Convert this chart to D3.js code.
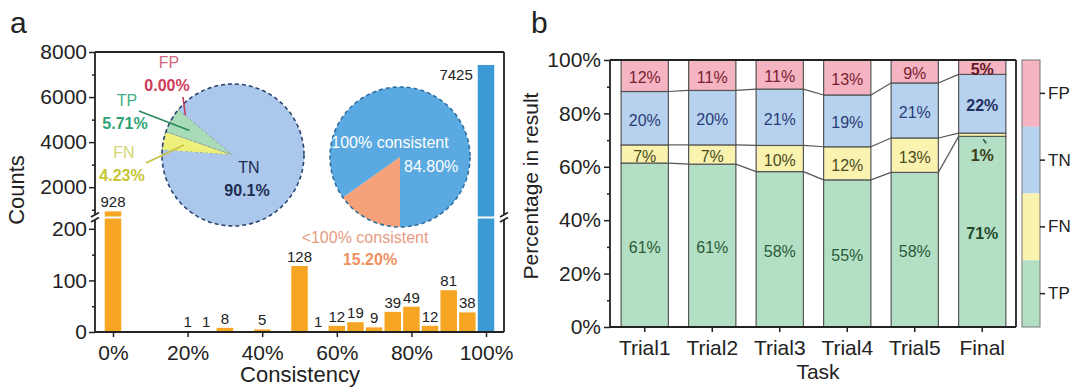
<!DOCTYPE html>
<meta charset="utf-8">
<style>
body { margin: 0; background: #fff; }
svg { font-family: "Liberation Sans", Arial, sans-serif; }
.axis text { font-size: 21px; fill: #222; }
.axis line { stroke: #222; stroke-width: 1.5; }
.frame { stroke: #222; stroke-width: 1.8; fill: none; }
</style>
<svg width="1080" height="387"></svg>
<script src="https://cdn.jsdelivr.net/npm/d3@7"></script>
<script>

// panel a: histogram of consistency
var consistency = [0, 20, 25, 30, 40, 50, 55, 60, 65, 70, 75, 80, 85, 90, 95, 100];
var counts = [928, 1, 1, 8, 5, 128, 1, 12, 19, 9, 39, 49, 12, 81, 38, 7425];

// panel a: inset pies
var pieOneLabels = ["FN", "TP", "FP", "TN"];
var pieOneValues = [4.23, 5.71, 0.00, 90.1];
var pieTwoLabels = ["<100% consistent", "100% consistent"];
var pieTwoValues = [15.20, 84.80];

// panel b: stacked percentages
var tasks = ["Trial1", "Trial2", "Trial3", "Trial4", "Trial5", "Final"];
var classes = ["TP", "FN", "TN", "FP"];
var tpPct = [61.4, 61.0, 58.2, 55.1, 57.9, 71.4];
var fnPct = [6.8, 7.2, 9.8, 12.4, 12.9, 1.2];
var tnPct = [20.0, 20.4, 21.1, 19.4, 20.6, 22.0];
var fpPct = [11.8, 11.4, 10.9, 13.1, 8.6, 5.4];

var svg = d3.select("svg");

// ---------- panel a ----------
var aL = 95, aR = 504, aT = 52, aB = 332;
var x = d3.scaleLinear().domain([0, 100]).range([113, 486]);
var yLow = d3.scaleLinear().domain([0, 220]).range([aB, 218.5]);
var yHigh = d3.scaleLinear().domain([700, 8000]).range([216.5, aT]);
var barW = 16.5;

var ga = svg.append("g");

var bars = ga.selectAll(".bar")
    .data(counts.map(function(c, i) { return {x: consistency[i], v: c}; }))
  .enter().append("g");

bars.each(function(d) {
  var g = d3.select(this);
  var col = d.x === 100 ? "#3b9ad6" : "#f7a623";
  if (d.v <= 220) {
    g.append("rect")
        .attr("x", x(d.x) - barW / 2).attr("width", barW)
        .attr("y", yLow(d.v)).attr("height", aB - yLow(d.v))
        .attr("fill", col);
  } else {
    g.append("rect")
        .attr("x", x(d.x) - barW / 2).attr("width", barW)
        .attr("y", yLow(220)).attr("height", aB - yLow(220))
        .attr("fill", col);
    g.append("rect")
        .attr("x", x(d.x) - barW / 2).attr("width", barW)
        .attr("y", yHigh(d.v)).attr("height", yHigh(700) - yHigh(d.v))
        .attr("fill", col);
  }
});

bars.append("text")
    .attr("x", function(d) { return d.x === 100 ? x(d.x) - barW / 2 - 5 : x(d.x); })
    .attr("y", function(d) {
      var top = d.v <= 220 ? yLow(d.v) : yHigh(d.v);
      return d.x === 100 ? top + 15 : top - 4;
    })
    .attr("text-anchor", function(d) { return d.x === 100 ? "end" : "middle"; })
    .style("font-size", "15px")
    .style("fill", "#222")
    .text(function(d) { return d.v; });

// axes a
var fmtCount = d3.format("d");
ga.append("g").attr("class", "axis").attr("transform", "translate(" + aL + ",0)")
    .call(d3.axisLeft(yLow).tickValues([0, 100, 200]).tickSize(6).tickPadding(2).tickFormat(fmtCount));
ga.append("g").attr("class", "axis").attr("transform", "translate(" + aL + ",0)")
    .call(d3.axisLeft(yHigh).tickValues([2000, 4000, 6000, 8000]).tickSize(6).tickPadding(2).tickFormat(fmtCount));
ga.append("g").attr("class", "axis").attr("transform", "translate(" + aL + ",0)")
    .call(d3.axisLeft(yLow).tickValues([50, 150]).tickSize(3).tickFormat(""));
ga.append("g").attr("class", "axis").attr("transform", "translate(" + aL + ",0)")
    .call(d3.axisLeft(yHigh).tickValues([1000, 3000, 5000, 7000]).tickSize(3).tickFormat(""));
ga.append("g").attr("class", "axis").attr("transform", "translate(0," + aB + ")")
    .call(d3.axisBottom(x).tickValues([0, 20, 40, 60, 80, 100]).tickSize(5).tickPadding(8)
      .tickFormat(function(d) { return d + "%"; }));
ga.selectAll(".axis path.domain").remove();

// frame with breaks
[aL, aR].forEach(function(xx) {
  ga.append("line").attr("class", "frame").attr("x1", xx).attr("x2", xx).attr("y1", aT).attr("y2", 215);
  ga.append("line").attr("class", "frame").attr("x1", xx).attr("x2", xx).attr("y1", 220).attr("y2", aB);
  ga.append("line").attr("class", "frame").attr("x1", xx - 4).attr("x2", xx + 4).attr("y1", 217).attr("y2", 212.5);
  ga.append("line").attr("class", "frame").attr("x1", xx - 4).attr("x2", xx + 4).attr("y1", 222).attr("y2", 217.5);
});
ga.append("line").attr("class", "frame").attr("x1", aL).attr("x2", aR).attr("y1", aT).attr("y2", aT);
ga.append("line").attr("class", "frame").attr("x1", aL).attr("x2", aR).attr("y1", aB).attr("y2", aB);

ga.append("text").attr("transform", "translate(24,190) rotate(-90)")
    .attr("text-anchor", "middle").style("font-size", "22px").style("fill", "#222").text("Counts");
ga.append("text").attr("x", 300).attr("y", 382)
    .attr("text-anchor", "middle").style("font-size", "22px").style("fill", "#222").text("Consistency");
svg.append("text").attr("x", 10).attr("y", 33).style("font-size", "30px").style("fill", "#222").text("a");

// pie one
var pieOneColors = {FN: "#eef07c", TP: "#a8dcb8", FP: "#f0a0b0", TN: "#abc8ec"};
var p1cx = 233, p1cy = 155, p1r = 71;
var pie1 = d3.pie().sort(null)
    .startAngle(274 * Math.PI / 180).endAngle(274 * Math.PI / 180 + 2 * Math.PI);
var arc1 = d3.arc().innerRadius(0).outerRadius(p1r);
var p1 = ga.append("g").attr("transform", "translate(" + p1cx + "," + p1cy + ")");
var p1arcs = pie1(pieOneValues);
p1.selectAll("path").data(p1arcs).enter().append("path")
    .attr("d", arc1)
    .attr("fill", function(d, i) { return pieOneColors[pieOneLabels[i]]; })
    .attr("stroke", function(d, i) { return pieOneLabels[i] === "TN" ? "none" : "#8aa0a0"; })
    .attr("stroke-width", 1)
    .attr("stroke-dasharray", "3,2");
p1.append("circle").attr("r", p1r).attr("fill", "none")
    .attr("stroke", "#2b4470").attr("stroke-width", 1.6).attr("stroke-dasharray", "4,3");

var p1text = {
  FP: {x: 169, y: 62, col: "#d06a80", pcol: "#d23a5a", lx: 183, ly: 97},
  TP: {x: 127, y: 100, col: "#3fb083", pcol: "#2ea276", lx: 139, ly: 111},
  FN: {x: 124, y: 152, col: "#d6d672", pcol: "#c6c634", lx: 146, ly: 163},
  TN: {x: 249, y: 167, col: "#1c2c52", pcol: "#1c2c52"}
};
var lineCol = {FP: "#c0405e", TP: "#2a8a5c", FN: "#c8c040"};
p1arcs.forEach(function(a, i) {
  var k = pieOneLabels[i], t = p1text[k];
  if (k !== "TN") {
    var mid = (a.startAngle + a.endAngle) / 2, rr = k === "FP" ? 62 : 50;
    ga.append("line")
        .attr("x1", t.lx).attr("y1", t.ly)
        .attr("x2", p1cx + rr * Math.sin(mid)).attr("y2", p1cy - rr * Math.cos(mid))
        .attr("stroke", lineCol[k]).attr("stroke-width", 1.6);
  }
  ga.append("text").attr("x", t.x).attr("y", t.y).attr("dy", "0.35em")
      .attr("text-anchor", "middle").style("font-size", "16px").style("fill", t.col).text(k);
  ga.append("text").attr("x", t.x - 2).attr("y", t.y + 23).attr("dy", "0.35em")
      .attr("text-anchor", "middle").style("font-size", "16px").style("font-weight", "bold")
      .style("fill", t.pcol)
      .text(k === "TN" ? pieOneValues[i].toFixed(1) + "%" : pieOneValues[i].toFixed(2) + "%");
});

// pie two
var pieTwoColors = ["#f5a27a", "#5aa9e0"];
var p2cx = 400, p2cy = 157, p2r = 70;
var pie2 = d3.pie().sort(null).startAngle(Math.PI).endAngle(3 * Math.PI);
var arc2 = d3.arc().innerRadius(0).outerRadius(p2r);
var p2 = ga.append("g").attr("transform", "translate(" + p2cx + "," + p2cy + ")");
p2.selectAll("path").data(pie2(pieTwoValues)).enter().append("path")
    .attr("d", arc2)
    .attr("fill", function(d, i) { return pieTwoColors[i]; });
p2.append("circle").attr("r", p2r).attr("fill", "none")
    .attr("stroke", "#2e6fa0").attr("stroke-width", 1.6).attr("stroke-dasharray", "4,3");

ga.append("text").attr("x", 390).attr("y", 142).attr("dy", "0.35em").attr("text-anchor", "middle")
    .style("font-size", "16px").style("fill", "#fff").text(pieTwoLabels[1]);
ga.append("text").attr("x", 404).attr("y", 166).attr("dy", "0.35em")
    .style("font-size", "16px").style("fill", "#fff").text(pieTwoValues[1].toFixed(2) + "%");
ga.append("text").attr("x", 365).attr("y", 237).attr("dy", "0.35em").attr("text-anchor", "middle")
    .style("font-size", "16px").style("fill", "#e69c82").text(pieTwoLabels[0]);
ga.append("text").attr("x", 370).attr("y", 259).attr("dy", "0.35em").attr("text-anchor", "middle")
    .style("font-size", "16px").style("font-weight", "bold").style("fill", "#f0915e")
    .text(pieTwoValues[0].toFixed(2) + "%");

// ---------- panel b ----------
var bL = 610, bR = 1016, bT = 60, bB = 327;
var yB = d3.scaleLinear().domain([0, 100]).range([bB, bT]);
var xB = d3.scaleBand().domain(tasks).range([bL + 1, bR]).paddingInner(0.3).paddingOuter(0.15);
var segColors = {TP: "#b3e0c4", FN: "#faf3b0", TN: "#b7d2ee", FP: "#f4b4c2"};
var segText = {TP: "#2a5a38", FN: "#4a4a1e", TN: "#2a3c78", FP: "#7a2030"};

var rows = tasks.map(function(t, i) {
  return {task: t, TP: tpPct[i], FN: fnPct[i], TN: tnPct[i], FP: fpPct[i]};
});
var series = d3.stack().keys(classes)(rows);

var gb = svg.append("g");
series.forEach(function(s) {
  gb.selectAll(null).data(s).enter().append("rect")
      .attr("x", function(d) { return xB(d.data.task); })
      .attr("width", xB.bandwidth())
      .attr("y", function(d) { return yB(d[1]); })
      .attr("height", function(d) { return yB(d[0]) - yB(d[1]); })
      .attr("fill", segColors[s.key])
      .attr("stroke", "#555").attr("stroke-width", 1.2);
});

// connectors between bars
series.slice(0, 3).forEach(function(s) {
  for (var i = 0; i < s.length - 1; i++) {
    gb.append("line")
        .attr("x1", xB(tasks[i]) + xB.bandwidth()).attr("y1", yB(s[i][1]))
        .attr("x2", xB(tasks[i + 1])).attr("y2", yB(s[i + 1][1]))
        .attr("stroke", "#555").attr("stroke-width", 1.2);
  }
});

// segment labels
series.forEach(function(s) {
  s.forEach(function(d) {
    var cx = xB(d.data.task) + xB.bandwidth() / 2;
    var small = d[1] - d[0] < 3;
    var cy = small ? yB(d[0]) + 19 : yB((d[0] + d[1]) / 2) + 2;
    if (small) {
      gb.append("path")
          .attr("d", "M" + (cx + 1) + "," + (yB(d[0]) + 3) + "l3,4")
          .attr("stroke", "#1e4a2a").attr("stroke-width", 1.5).attr("fill", "none");
    }
    gb.append("text").attr("x", cx).attr("y", cy).attr("dy", "0.35em")
        .attr("text-anchor", "middle")
        .style("font-size", "16px")
        .style("font-weight", d.data.task === "Final" ? "bold" : "normal")
        .style("fill", d.data.task === "Final" ? d3.color(segText[s.key]).darker(0.6) : segText[s.key])
        .text(Math.round(d.data[s.key]) + "%");
  });
});

gb.append("g").attr("class", "axis").attr("transform", "translate(" + bL + ",0)")
    .call(d3.axisLeft(yB).tickValues([0, 20, 40, 60, 80, 100]).tickSize(6).tickPadding(3)
      .tickFormat(function(d) { return d + "%"; }));
gb.append("g").attr("class", "axis").attr("transform", "translate(" + bL + ",0)")
    .call(d3.axisLeft(yB).tickValues([10, 30, 50, 70, 90]).tickSize(3).tickFormat(""));
gb.append("g").attr("class", "axis").attr("transform", "translate(0," + bB + ")")
    .call(d3.axisBottom(xB).tickSize(5).tickPadding(8));
gb.selectAll(".axis path.domain").remove();

gb.append("line").attr("class", "frame").attr("x1", bL).attr("x2", bL).attr("y1", bT).attr("y2", bB);
gb.append("line").attr("class", "frame").attr("x1", bR).attr("x2", bR).attr("y1", bT).attr("y2", bB);
gb.append("line").attr("class", "frame").attr("x1", bL).attr("x2", bR).attr("y1", bT).attr("y2", bT);
gb.append("line").attr("class", "frame").attr("x1", bL).attr("x2", bR).attr("y1", bB).attr("y2", bB);

gb.append("text").attr("transform", "translate(538,186) rotate(-90)")
    .attr("text-anchor", "middle").style("font-size", "21px").style("fill", "#222").text("Percentage in result");
gb.append("text").attr("x", 818).attr("y", 379)
    .attr("text-anchor", "middle").style("font-size", "21px").style("fill", "#222").text("Task");
svg.append("text").attr("x", 531).attr("y", 33).style("font-size", "30px").style("fill", "#222").text("b");

// legend colour bar
var legY = d3.scaleBand().domain(classes.slice().reverse()).range([bT, bB]);
var leg = gb.append("g");
leg.selectAll("rect").data(legY.domain()).enter().append("rect")
    .attr("x", 1022).attr("width", 18)
    .attr("y", function(d) { return legY(d); })
    .attr("height", legY.bandwidth())
    .attr("fill", function(d) { return segColors[d]; });
leg.append("rect").attr("x", 1022).attr("y", bT).attr("width", 18).attr("height", bB - bT)
    .attr("fill", "none").attr("stroke", "#777").attr("stroke-width", 1);
var legAxis = leg.append("g").attr("class", "axis").attr("transform", "translate(1040,0)")
    .call(d3.axisRight(legY).tickSize(5).tickPadding(3));
legAxis.select("path.domain").remove();
legAxis.selectAll("text").style("font-size", "17px");

</script>
